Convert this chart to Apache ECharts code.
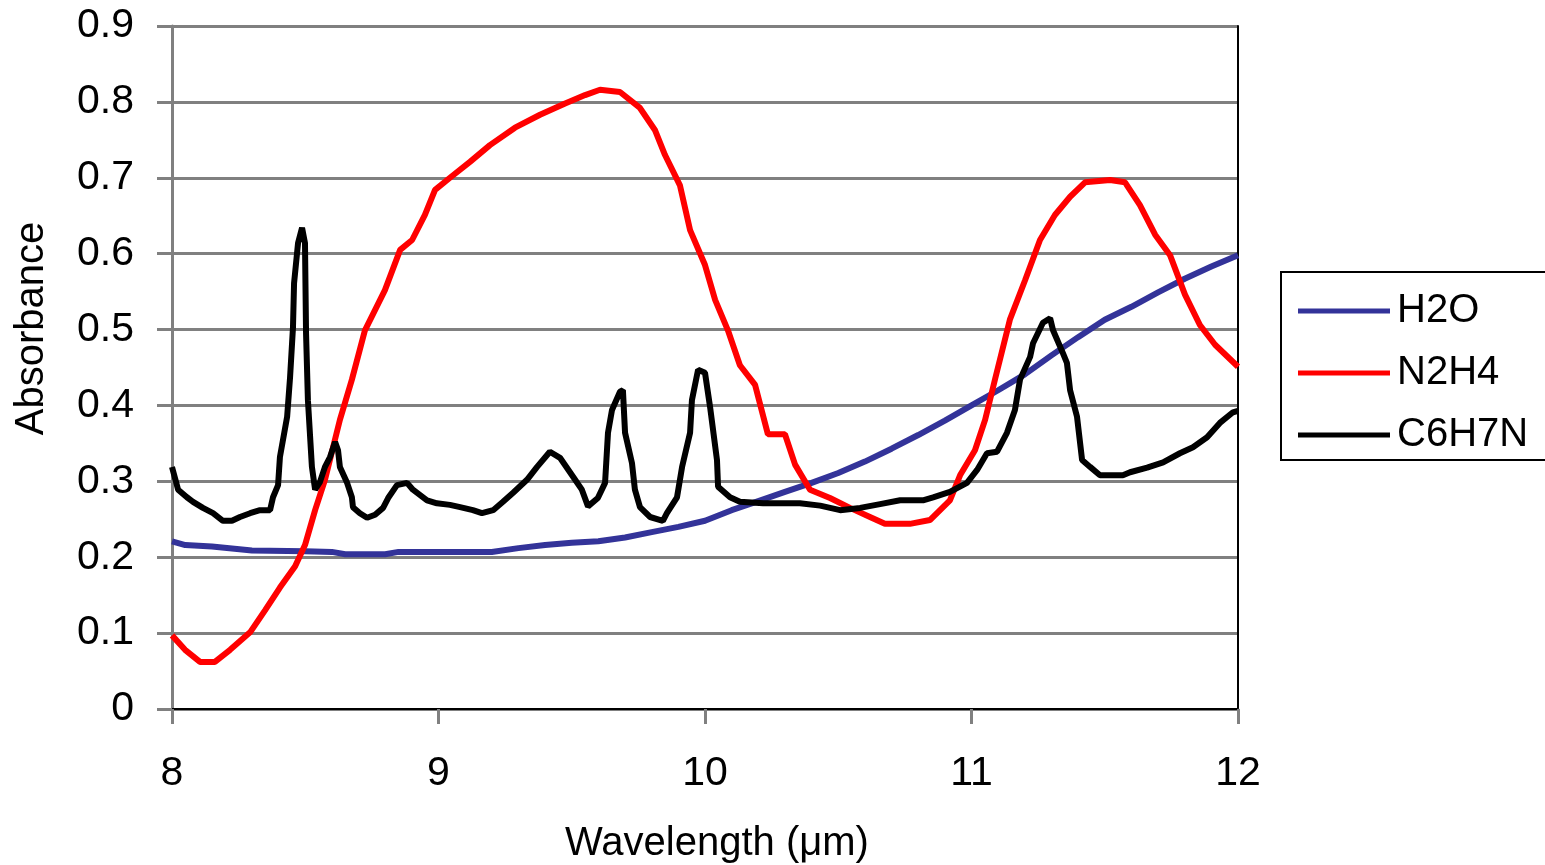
<!DOCTYPE html>
<html>
<head>
<meta charset="utf-8">
<script src="https://cdn.jsdelivr.net/npm/echarts@6/dist/echarts.min.js"></script>
<style>
  html, body { margin: 0; padding: 0; background: #fff; }
  #chart { width: 1545px; height: 865px; }
</style>
</head>
<body>
<div id="chart"></div>
<script>
// wavelength (um) / absorbance
var h2oX = [8.0, 8.05, 8.15, 8.3, 8.5, 8.6, 8.65, 8.8, 8.85, 9.2, 9.3, 9.4, 9.5, 9.6, 9.7, 9.8, 9.9, 10.0,
  10.1, 10.2, 10.3, 10.4, 10.5, 10.6, 10.7, 10.8, 10.9, 11.0, 11.1, 11.2, 11.3, 11.4, 11.5, 11.6, 11.7, 11.8, 11.9, 12.0];
var h2oY = [0.221, 0.216, 0.214, 0.209, 0.208, 0.207, 0.204, 0.204, 0.207, 0.207, 0.212, 0.216, 0.219, 0.221, 0.226, 0.233, 0.240, 0.248,
  0.262, 0.274, 0.286, 0.298, 0.311, 0.326, 0.343, 0.361, 0.380, 0.400, 0.420, 0.441, 0.466, 0.490, 0.513, 0.530, 0.549, 0.567, 0.583, 0.598];

var n2h4X = [8.0, 8.049, 8.105, 8.161, 8.218, 8.293, 8.349, 8.405, 8.462, 8.499, 8.537, 8.574, 8.63, 8.675, 8.724, 8.799, 8.856, 8.901,
  8.949, 8.987, 9.043, 9.118, 9.193, 9.287, 9.381, 9.475, 9.55, 9.606, 9.681, 9.756, 9.812, 9.85, 9.906, 9.944, 10.0, 10.038,
  10.086, 10.131, 10.188, 10.236, 10.3, 10.338, 10.394, 10.469, 10.544, 10.619, 10.675, 10.769, 10.844, 10.919, 10.957, 11.013,
  11.051, 11.088, 11.144, 11.201, 11.257, 11.313, 11.37, 11.426, 11.52, 11.576, 11.632, 11.689, 11.745, 11.801, 11.857, 11.914, 12.0];
var n2h4Y = [0.097, 0.078, 0.062, 0.062, 0.078, 0.101, 0.130, 0.160, 0.188, 0.216, 0.262, 0.302, 0.381, 0.434, 0.499, 0.552, 0.605, 0.618,
  0.651, 0.684, 0.700, 0.721, 0.743, 0.766, 0.783, 0.798, 0.809, 0.816, 0.813, 0.792, 0.763, 0.730, 0.690, 0.631, 0.585, 0.539,
  0.499, 0.453, 0.427, 0.362, 0.362, 0.322, 0.289, 0.278, 0.265, 0.253, 0.244, 0.244, 0.249, 0.275, 0.308, 0.341,
  0.381, 0.434, 0.513, 0.565, 0.618, 0.651, 0.675, 0.694, 0.697, 0.694, 0.664, 0.625, 0.598, 0.546, 0.506, 0.480, 0.451];

var c6h7nX = [8.0, 8.023, 8.056, 8.079, 8.116, 8.154, 8.191, 8.225, 8.255, 8.293, 8.33, 8.368, 8.379, 8.398, 8.405, 8.432, 8.443,
  8.454, 8.458, 8.473, 8.488, 8.499, 8.503, 8.51, 8.525, 8.537, 8.555, 8.574, 8.593, 8.612, 8.623, 8.63, 8.657, 8.675, 8.679,
  8.705, 8.732, 8.762, 8.792, 8.811, 8.844, 8.882, 8.904, 8.957, 8.994, 9.043, 9.081, 9.129, 9.163, 9.205, 9.242, 9.28, 9.332,
  9.37, 9.418, 9.456, 9.505, 9.538, 9.561, 9.598, 9.625, 9.636, 9.651, 9.681, 9.692, 9.7, 9.726, 9.737, 9.756, 9.794, 9.842,
  9.857, 9.895, 9.914, 9.944, 9.951, 9.974, 10.0, 10.019, 10.045, 10.049, 10.094, 10.131, 10.218, 10.356, 10.432, 10.507,
  10.582, 10.657, 10.732, 10.818, 10.856, 10.919, 10.983, 11.021, 11.058, 11.096, 11.133, 11.163, 11.182, 11.22, 11.231,
  11.268, 11.295, 11.306, 11.343, 11.358, 11.37, 11.396, 11.415, 11.445, 11.482, 11.568, 11.595, 11.659, 11.719, 11.782,
  11.831, 11.884, 11.932, 11.981, 12.0];
var c6h7nY = [0.319, 0.289, 0.279, 0.273, 0.265, 0.258, 0.248, 0.248, 0.253, 0.258, 0.262, 0.262, 0.279, 0.295, 0.332, 0.385, 0.437,
  0.503, 0.561, 0.614, 0.634, 0.614, 0.495, 0.407, 0.319, 0.289, 0.299, 0.319, 0.332, 0.352, 0.341, 0.319, 0.298, 0.279, 0.266,
  0.258, 0.252, 0.256, 0.265, 0.278, 0.295, 0.298, 0.289, 0.275, 0.271, 0.269, 0.266, 0.262, 0.258, 0.262, 0.273, 0.285, 0.302,
  0.319, 0.339, 0.331, 0.306, 0.289, 0.267, 0.278, 0.298, 0.364, 0.394, 0.418, 0.420, 0.364, 0.324, 0.289, 0.266, 0.253, 0.248,
  0.258, 0.279, 0.319, 0.364, 0.407, 0.447, 0.443, 0.398, 0.328, 0.293, 0.279, 0.273, 0.271, 0.271, 0.268, 0.262,
  0.265, 0.270, 0.275, 0.275, 0.279, 0.286, 0.298, 0.315, 0.337, 0.339, 0.364, 0.394, 0.434, 0.464, 0.482,
  0.509, 0.515, 0.499, 0.469, 0.456, 0.420, 0.385, 0.328, 0.319, 0.308, 0.308, 0.312, 0.318, 0.325, 0.337,
  0.345, 0.358, 0.377, 0.391, 0.393];

var seriesNames = ['H2O', 'N2H4', 'C6H7N'];
var seriesColors = ['#333399', '#ff0000', '#000000'];

function pairs(xs, ys) {
  var out = [];
  for (var i = 0; i < xs.length; i++) out.push([xs[i], ys[i]]);
  return out;
}

var font = 'Liberation Sans, Arial, sans-serif';
var chart = echarts.init(document.getElementById('chart'));

var option = {
  backgroundColor: '#fff',
  animation: false,
  textStyle: { fontFamily: font },
  grid: { left: 172, top: 26, right: 307, bottom: 156, outerBoundsMode: 'none', containLabel: false },
  legend: {
    orient: 'vertical',
    left: 1281,
    top: 272,
    padding: [19, 300, 5, 17],
    itemGap: 22,
    itemWidth: 92,
    itemHeight: 5,
    itemStyle: { borderWidth: 0 },
    icon: 'rect',
    borderColor: '#000',
    borderWidth: 2,
    textStyle: { fontSize: 40, lineHeight: 40, color: '#000', fontFamily: font, padding: [0, 0, 0, 2] },
    data: seriesNames
  },
  xAxis: [{
    type: 'value',
    min: 8,
    max: 12,
    interval: 1,
    name: 'Wavelength (μm)',
    nameLocation: 'middle',
    nameGap: 115,
    nameTextStyle: { fontSize: 40, color: '#000', padding: [0, 0, 0, 24] },
    axisLine: { lineStyle: { color: '#808080', width: 3 } },
    axisTick: { show: true, length: 15, lineStyle: { color: '#808080', width: 3 } },
    axisLabel: { fontSize: 41, color: '#000', margin: 44 },
    splitLine: { show: false }
  }, {
    type: 'value',
    position: 'top',
    min: 8,
    max: 12,
    axisLine: { show: true, lineStyle: { color: '#000', width: 2 } },
    axisTick: { show: false },
    axisLabel: { show: false },
    splitLine: { show: false }
  }],
  yAxis: [{
    type: 'value',
    min: 0,
    max: 0.9,
    interval: 0.1,
    name: 'Absorbance',
    nameLocation: 'middle',
    nameGap: 120,
    nameTextStyle: { fontSize: 40, color: '#000', padding: [0, 0, 0, 78] },
    axisLine: { show: true, lineStyle: { color: '#808080', width: 3 } },
    axisTick: { show: true, length: 15, lineStyle: { color: '#808080', width: 3 } },
    axisLabel: {
      fontSize: 41, color: '#000', margin: 38,
      formatter: function (v) { return v === 0 ? '0' : v.toFixed(1); }
    },
    splitLine: { show: true, lineStyle: { color: '#808080', width: 3 } }
  }, {
    type: 'value',
    position: 'right',
    min: 0,
    max: 0.9,
    axisLine: { show: true, lineStyle: { color: '#000', width: 2 } },
    axisTick: { show: false },
    axisLabel: { show: false },
    splitLine: { show: false }
  }],
  series: [
    { name: seriesNames[0], type: 'line', data: pairs(h2oX, h2oY) },
    { name: seriesNames[1], type: 'line', data: pairs(n2h4X, n2h4Y) },
    { name: seriesNames[2], type: 'line', data: pairs(c6h7nX, c6h7nY) }
  ].map(function (s, i) {
    s.showSymbol = false;
    s.symbol = 'none';
    s.color = seriesColors[i];
    s.lineStyle = { color: seriesColors[i], width: 6 };
    s.z = 3 + i;
    return s;
  })
};

chart.setOption(option);
</script>
</body>
</html>
